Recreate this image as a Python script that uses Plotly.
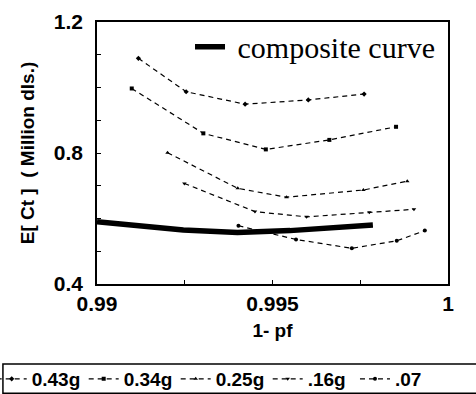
import plotly.graph_objects as go

# Data
series_names = ["0.43g", "0.34g", "0.25g", ".16g", ".07"]
x_043 = [0.99118, 0.99254, 0.99422, 0.99602, 0.99761]
y_043 = [1.089, 0.987, 0.949, 0.962, 0.980]
x_034 = [0.99099, 0.99303, 0.99481, 0.99662, 0.99852]
y_034 = [0.997, 0.860, 0.811, 0.840, 0.880]
x_025 = [0.99201, 0.99401, 0.99540, 0.99759, 0.99884]
y_025 = [0.801, 0.692, 0.665, 0.687, 0.714]
x_016 = [0.99249, 0.99450, 0.99597, 0.99776, 0.99903]
y_016 = [0.707, 0.621, 0.605, 0.619, 0.628]
x_007 = [0.99403, 0.99567, 0.99726, 0.99854, 0.99934]
y_007 = [0.578, 0.536, 0.509, 0.532, 0.563]
x_comp = [0.99, 0.99246, 0.9940, 0.9955, 0.99786]
y_comp = [0.590, 0.565, 0.557, 0.563, 0.580]

x_tickvals = [0.99, 0.9925, 0.995, 0.9975, 1.0]
x_ticktext = ["0.99", "", "0.995", "", "1"]
y_tickvals = [0.4, 0.5, 0.6, 0.7, 0.8, 0.9, 1.0, 1.1, 1.2]
y_ticktext = ["0.4", "", "", "", "0.8", "", "", "", "1.2"]

xs = [x_043, x_034, x_025, x_016, x_007]
ys = [y_043, y_034, y_025, y_016, y_007]
symbols = ["diamond", "square", "triangle-up", "triangle-down", "circle"]
# the last entry sits in its own legend box so the row does not wrap
legend_ids = ["legend2", "legend2", "legend2", "legend2", "legend3"]

fig = go.Figure()
for name, x, y, sym, lg in zip(series_names, xs, ys, symbols, legend_ids):
    fig.add_trace(go.Scatter(
        x=x, y=y, name=name, mode="lines+markers",
        line=dict(color="black", width=1.2, dash="5px,4px"),
        marker=dict(symbol=sym, size=4, color="black"),
        legend=lg,
    ))

fig.add_trace(go.Scatter(
    x=x_comp, y=y_comp, name="\u00a0composite curve", mode="lines",
    line=dict(color="black", width=5.5), legend="legend",
))

bottom_legend_font = dict(family="Liberation Sans, Arial", size=19, weight="bold")

fig.update_layout(
    width=476, height=394,
    margin=dict(l=97, r=28, t=22, b=110, autoexpand=False),
    paper_bgcolor="white", plot_bgcolor="white",
    font=dict(family="Liberation Sans, Arial", color="black"),
    xaxis=dict(
        range=[0.99, 1.0], tickvals=x_tickvals, ticktext=x_ticktext,
        ticks="inside", ticklen=4, tickcolor="black",
        showline=True, linecolor="black", linewidth=1.5, mirror=True,
        showgrid=False, zeroline=False,
        tickfont=dict(size=21, family="Liberation Sans, Arial", weight="bold"),
        title=dict(text="<b>1- pf</b>", font=dict(size=19), standoff=10),
    ),
    yaxis=dict(
        range=[0.4, 1.2], tickvals=y_tickvals, ticktext=y_ticktext,
        ticks="inside", ticklen=4, tickcolor="black",
        showline=True, linecolor="black", linewidth=1.5, mirror=True,
        showgrid=False, zeroline=False, ticklabelstandoff=8,
        tickfont=dict(size=21, family="Liberation Sans, Arial", weight="bold"),
        title=dict(text="<b>E[ Ct ]  ( Million dls.)</b>", font=dict(size=19), standoff=14),
    ),
    legend=dict(
        x=0.265, y=1.005, xanchor="left", yanchor="top",
        bgcolor="rgba(0,0,0,0)", borderwidth=0,
        font=dict(family="Liberation Serif, Times New Roman", size=30),
        itemwidth=30,
    ),
    legend2=dict(
        orientation="h", x=-0.30, y=-0.29, xanchor="left", yanchor="top",
        bgcolor="rgba(0,0,0,0)", borderwidth=0,
        font=bottom_legend_font,
        itemwidth=30, tracegroupgap=0, entrywidth=47, entrywidthmode="pixels",
    ),
    legend3=dict(
        orientation="h", x=0.735, y=-0.29, xanchor="left", yanchor="top",
        bgcolor="rgba(0,0,0,0)", borderwidth=0,
        font=bottom_legend_font,
        itemwidth=30, tracegroupgap=0,
    ),
    showlegend=True,
    shapes=[dict(
        type="rect", xref="paper", yref="paper",
        x0=-0.268, x1=1.2, y0=-0.417, y1=-0.305,
        line=dict(color="black", width=1.5), fillcolor="rgba(0,0,0,0)",
    )],
)

fig.write_html("out.html")
